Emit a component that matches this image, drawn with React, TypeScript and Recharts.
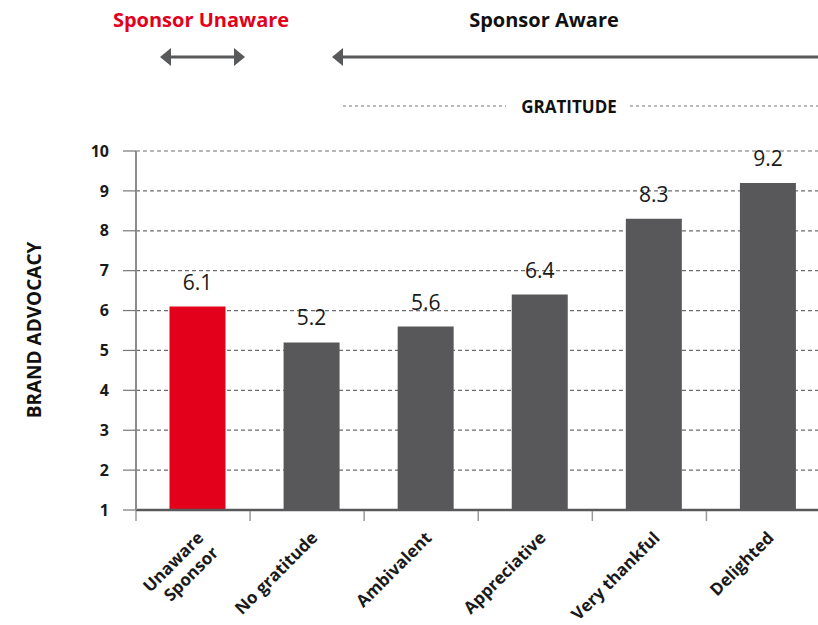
import { BarChart, Bar, XAxis, YAxis, CartesianGrid, Cell, LabelList } from "recharts";

// values
const categories = ["Unaware\nSponsor", "No gratitude", "Ambivalent", "Appreciative", "Very thankful", "Delighted"];
const advocacy = [6.1, 5.2, 5.6, 6.4, 8.3, 9.2];
const barColors = ["#E2001A", "#58585A", "#58585A", "#58585A", "#58585A", "#58585A"];
const yTicks = [1, 2, 3, 4, 5, 6, 7, 8, 9, 10];

const data = categories.map((name, i) => ({ name, value: advocacy[i] }));

const FONT = "'Open Sans', 'Noto Sans', sans-serif";
const DARK = "#58595B";
const PAD_LEFT = 4.5; // bars sit a little right of the band centre in the original

function CategoryTick({ x, y, payload }: any) {
  const lines = String(payload.value).split("\n");
  const ax = x + 7;
  const ay = y + 29;
  // tick mark on the left edge of each band
  const edge = x - (payload.offset ?? 0) - PAD_LEFT;
  return (
    <g>
      <line x1={edge} y1={y + 1} x2={edge} y2={y + 11} stroke="#9a9a9a" strokeWidth={1.5} />
      <text
        x={ax}
        y={ay}
        transform={`rotate(-45 ${ax} ${ay})`}
        textAnchor="end"
        fontFamily={FONT}
        fontWeight={700}
        fontSize={17}
        fill="#1a1a1a"
      >
        {lines.map((l, i) => (
          <tspan key={i} x={ax} dy={i === 0 ? 0 : 21}>
            {l}
          </tspan>
        ))}
      </text>
    </g>
  );
}

export default function App() {
  return (
    <div style={{ position: "absolute", left: 0, top: 0, width: 818, height: 625, overflow: "hidden", background: "#fff" }}>
      <BarChart
        width={825}
        height={625}
        data={data}
        margin={{ top: 151, right: 0, bottom: 0, left: 0 }}
      >
        <CartesianGrid vertical={false} strokeDasharray="4 3" stroke="#6e6e6e" strokeWidth={1.2} />
        <XAxis
          dataKey="name"
          height={115}
          interval={0}
          padding={{ left: PAD_LEFT, right: 0 }}
          tickSize={0}
          tickMargin={0}
          tickLine={false}
          axisLine={{ stroke: DARK, strokeWidth: 2.5 }}
          tick={<CategoryTick />}
        />
        <YAxis
          domain={[1, 10]}
          ticks={yTicks}
          width={136}
          tickSize={13}
          tickMargin={14}
          axisLine={{ stroke: "#8c8c8c", strokeWidth: 2 }}
          tickLine={{ stroke: "#777", strokeWidth: 1.2 }}
          tick={{ fontFamily: FONT, fontWeight: 700, fontSize: 16, fill: "#1a1a1a" }}
        />
        <Bar dataKey="value" barSize={56} isAnimationActive={false}>
          {data.map((d, i) => (
            <Cell key={d.name} fill={barColors[i]} />
          ))}
          <LabelList
            dataKey="value"
            position="top"
            offset={17}
            fontFamily={FONT}
            fontSize={21}
            fill="#1a1a1a"
            formatter={(v: any) => Number(v).toFixed(1)}
          />
        </Bar>
      </BarChart>

      <svg width={818} height={625} style={{ position: "absolute", left: 0, top: 0, pointerEvents: "none" }}>
        <text x={201} y={27} textAnchor="middle" fontFamily={FONT} fontWeight={700} fontSize={20} fill="#E2001A">
          Sponsor Unaware
        </text>
        <text x={544} y={27} textAnchor="middle" fontFamily={FONT} fontWeight={700} fontSize={20} fill="#111">
          Sponsor Aware
        </text>

        <line x1={168} y1={57} x2={237} y2={57} stroke={DARK} strokeWidth={3} />
        <polygon points="160,57 171,48 171,66" fill={DARK} />
        <polygon points="245,57 234,48 234,66" fill={DARK} />

        <line x1={340} y1={57} x2={818} y2={57} stroke={DARK} strokeWidth={3} />
        <polygon points="332,57 343,48 343,66" fill={DARK} />

        <line x1={343} y1={106} x2={506} y2={106} stroke="#777" strokeWidth={1.2} strokeDasharray="3 3" />
        <line x1={630} y1={106} x2={818} y2={106} stroke="#777" strokeWidth={1.2} strokeDasharray="3 3" />
        <text x={569} y={113} textAnchor="middle" fontFamily={FONT} fontWeight={700} fontSize={17} fill="#111">
          GRATITUDE
        </text>

        <text
          x={41}
          y={330}
          transform="rotate(-90 41 330)"
          textAnchor="middle"
          fontFamily={FONT}
          fontWeight={700}
          fontSize={19}
          fill="#111"
        >
          BRAND ADVOCACY
        </text>
      </svg>
    </div>
  );
}
